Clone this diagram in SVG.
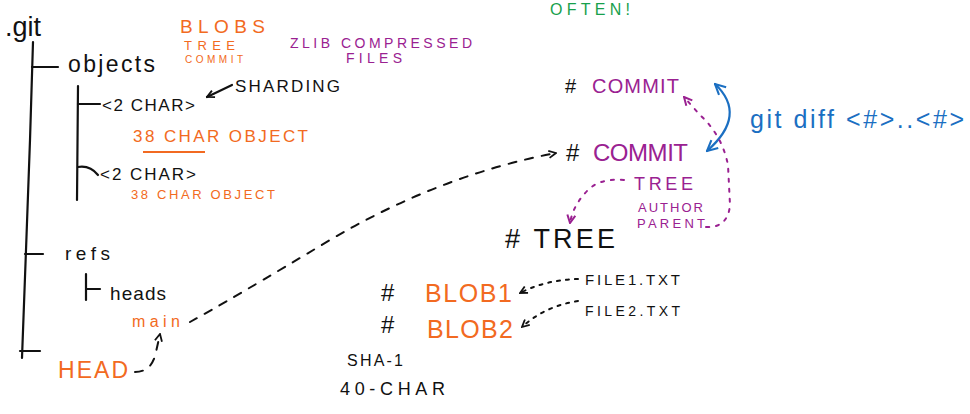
<svg xmlns="http://www.w3.org/2000/svg" width="970" height="414" viewBox="0 0 970 414">
<style>
text{font-family:"Liberation Sans","DejaVu Sans",sans-serif}
.k{fill:#111}.o{fill:#f26a21}.p{fill:#9a2191}.g{fill:#17a04c}.b{fill:#1b6fc2}
.ln{stroke:#111;stroke-width:2.2;fill:none;stroke-linecap:round}
.dk{stroke:#111;stroke-width:2;fill:none;stroke-dasharray:8 9;stroke-linecap:round}
.dp{stroke:#9a2191;stroke-width:2;fill:none;stroke-dasharray:3 7;stroke-linecap:round}
.dk2{stroke:#111;stroke-width:2;fill:none;stroke-dasharray:3 6;stroke-linecap:round}
.bl{stroke:#1b6fc2;stroke-width:2.2;fill:none;stroke-linecap:round}
</style>
<defs>
<marker id="ak" viewBox="0 0 10 10" refX="9" refY="5" markerWidth="9" markerHeight="9" orient="auto-start-reverse" markerUnits="userSpaceOnUse"><path d="M1,1 L9,5 L1,9" fill="none" stroke="#111" stroke-width="2"/></marker>
<marker id="ap" viewBox="0 0 10 10" refX="9" refY="5" markerWidth="10" markerHeight="10" orient="auto-start-reverse" markerUnits="userSpaceOnUse"><path d="M1,1 L9,5 L1,9" fill="none" stroke="#9a2191" stroke-width="2"/></marker>
<marker id="ab" viewBox="0 0 10 10" refX="9" refY="5" markerWidth="13" markerHeight="13" orient="auto-start-reverse" markerUnits="userSpaceOnUse"><path d="M1,1 L9,5 L1,9" fill="none" stroke="#1b6fc2" stroke-width="1.6"/></marker>
</defs>

<g id="git-root"><text x="5" y="36" font-size="27" class="k">.git</text></g>
<g id="tree-lines">
<path class="ln" d="M33,42 L30,140 L26,250 L22,358"/>
<path class="ln" d="M32,67 L58,67"/>
<path class="ln" d="M25,254 L43,254"/>
<path class="ln" d="M20,351 L40,351"/>
<path class="ln" d="M78,86 L77,200"/>
<path class="ln" d="M78,104 L100,104"/>
<path class="ln" d="M78,167 Q90,165 98,175"/>
<path class="ln" d="M86,274 L86,300 M86,289 L100,289"/>
</g>
<g id="objects"><text x="68" y="72" font-size="23" class="k" textLength="87" lengthAdjust="spacing">objects</text></g>
<g id="shard1"><text x="102" y="111" font-size="17" class="k" textLength="93" lengthAdjust="spacing">&lt;2 CHAR&gt;</text></g>
<g id="sharding"><text x="235" y="92" font-size="17" class="k" textLength="105" lengthAdjust="spacing">SHARDING</text></g>
<g id="obj1"><text x="133" y="142" font-size="17" class="o" textLength="175" lengthAdjust="spacing">38 CHAR OBJECT</text>
<path d="M143,152 L205,152" stroke="#f26a21" stroke-width="2" fill="none"/></g>
<g id="shard2"><text x="100" y="180" font-size="17" class="k" textLength="96" lengthAdjust="spacing">&lt;2 CHAR&gt;</text></g>
<g id="obj2"><text x="131" y="199" font-size="13" class="o" textLength="144" lengthAdjust="spacing">38 CHAR OBJECT</text></g>
<g id="types"><text x="180" y="33" font-size="19" class="o" textLength="85" lengthAdjust="spacing">BLOBS</text>
<text x="184" y="50" font-size="13" class="o" textLength="51" lengthAdjust="spacing">TREE</text>
<text x="185" y="63" font-size="10" class="o" textLength="58" lengthAdjust="spacing">COMMIT</text></g>
<g id="zlib"><text x="290" y="48" font-size="14" class="p" textLength="182" lengthAdjust="spacing">ZLIB COMPRESSED</text>
<text x="346" y="63" font-size="14" class="p" textLength="56" lengthAdjust="spacing">FILES</text></g>
<g id="often"><text x="550" y="15" font-size="16" class="g" textLength="80" lengthAdjust="spacing">OFTEN!</text></g>
<g id="refs"><text x="65" y="260" font-size="19" class="k" textLength="45" lengthAdjust="spacing">refs</text></g>
<g id="heads"><text x="110" y="300" font-size="19" class="k" textLength="56" lengthAdjust="spacing">heads</text></g>
<g id="main"><text x="132" y="327" font-size="16" class="o" textLength="48" lengthAdjust="spacing">main</text></g>
<g id="head"><text x="58" y="378" font-size="23" class="o" textLength="70" lengthAdjust="spacing">HEAD</text></g>

<g id="commit1"><text x="565" y="93" font-size="20" class="k">#</text><text x="592" y="93" font-size="20" class="p" textLength="87" lengthAdjust="spacing">COMMIT</text></g>
<g id="commit2"><text x="566" y="161" font-size="24" class="k">#</text><text x="593" y="161" font-size="24" class="p" textLength="95" lengthAdjust="spacing">COMMIT</text></g>
<g id="gitdiff"><text x="750" y="128" font-size="25" class="b" textLength="214" lengthAdjust="spacing">git diff &lt;#&gt;..&lt;#&gt;</text></g>
<g id="commit-fields"><text x="634" y="190" font-size="18" class="p" textLength="59" lengthAdjust="spacing">TREE</text>
<text x="638" y="212" font-size="13" class="p" textLength="65" lengthAdjust="spacing">AUTHOR</text>
<text x="637" y="228" font-size="13" class="p" textLength="68" lengthAdjust="spacing">PARENT</text></g>
<g id="tree"><text x="505" y="248" font-size="27" class="k" textLength="110" lengthAdjust="spacing"># TREE</text></g>
<g id="blob1"><text x="381" y="301" font-size="24" class="k">#</text><text x="425" y="302" font-size="25" class="o" textLength="87" lengthAdjust="spacing">BLOB1</text></g>
<g id="blob2"><text x="381" y="333" font-size="24" class="k">#</text><text x="427" y="338" font-size="25" class="o" textLength="86" lengthAdjust="spacing">BLOB2</text></g>
<g id="file1"><text x="585" y="285" font-size="15" class="k" textLength="95" lengthAdjust="spacing">FILE1.TXT</text></g>
<g id="file2"><text x="585" y="316" font-size="14" class="k" textLength="95" lengthAdjust="spacing">FILE2.TXT</text></g>
<g id="sha"><text x="347" y="366" font-size="16" class="k" textLength="56" lengthAdjust="spacing">SHA-1</text>
<text x="340" y="395" font-size="18" class="k" textLength="105" lengthAdjust="spacing">40-CHAR</text></g>

<g id="connectors">
<path class="ln" d="M232,85 L207,97" marker-end="url(#ak)"/>
<path class="dk" d="M135,372 Q152,372 156,352 L160,334" marker-end="url(#ak)" stroke-dasharray="6 6"/>
<path class="dk" d="M190,322 Q230,300 330,240 Q440,175 556,153" marker-end="url(#ak)"/>
<path class="bl" d="M715,84 Q748,115 707,151" marker-start="url(#ab)" marker-end="url(#ab)"/>
<path class="dp" d="M706,227 Q728,228 730,205 L728,165 Q722,135 700,115 L684,97" marker-end="url(#ap)"/>
<path class="dp" d="M624,180 Q600,178 588,190 Q573,205 570,223" marker-end="url(#ap)"/>
<path class="dk2" d="M578,279 Q545,280 520,293" marker-end="url(#ak)"/>
<path class="dk2" d="M578,301 Q545,306 522,327" marker-end="url(#ak)"/>
</g>
</svg>
